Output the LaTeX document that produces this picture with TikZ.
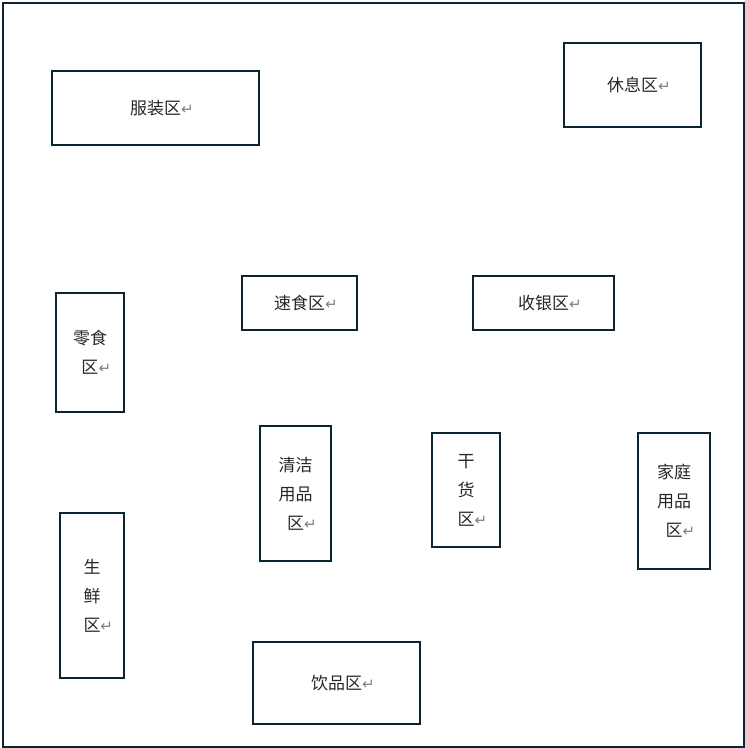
\documentclass[tikz,border=0pt]{standalone}
\usepackage{fontspec}
\setmainfont{Noto Sans CJK SC}
\newfontfamily\arrowfont{DejaVu Sans}
\usetikzlibrary{positioning}
\definecolor{kuangxian}{RGB}{13,37,48}
\newcommand{\huiche}{\rlap{{\arrowfont\fontsize{15}{15}\selectfont\color{gray}↵}}}

\begin{document}
\begin{tikzpicture}[x=1pt, y=-1pt,
    zone/.style={draw=kuangxian, line width=2pt, align=center, inner sep=0pt,
                 font=\fontsize{17}{29}\selectfont, text=black!85}]
        \useasboundingbox (0,0) rectangle (745,748);
        % outer wall
        \draw[kuangxian, line width=2pt] (2.5,2.5) rectangle (744,746.5);
        % areas
        \node[zone, minimum width=207pt, minimum height=74pt]  (fuzhuang)  at (155.5,108)  {服装区\huiche};
        \node[zone, minimum width=137pt, minimum height=84pt]  (xiuxi)     at (632.5,85)   {休息区\huiche};
        \node[zone, minimum width=68pt,  minimum height=119pt] (lingshi)   at (90,352.5)   {零食\\区\huiche};
        \node[zone, minimum width=115pt, minimum height=54pt]  (sushi)     at (299.5,303)  {速食区\huiche};
        \node[zone, minimum width=141pt, minimum height=54pt]  (shouyin)   at (543.5,303)  {收银区\huiche};
        \node[zone, minimum width=71pt,  minimum height=135pt] (qingjie)   at (295.5,493.5){清洁\\用品\\区\huiche};
        \node[zone, minimum width=68pt,  minimum height=114pt] (ganhuo)    at (466,490)    {干\\货\\区\huiche};
        \node[zone, minimum width=72pt,  minimum height=136pt] (jiating)   at (674,501)    {家庭\\用品\\区\huiche};
        \node[zone, minimum width=64pt,  minimum height=165pt] (shengxian) at (92,595.5)   {生\\鲜\\区\huiche};
        \node[zone, minimum width=167pt, minimum height=82pt]  (yinpin)    at (336.5,683)  {饮品区\huiche};
    \end{tikzpicture}
\end{document}
